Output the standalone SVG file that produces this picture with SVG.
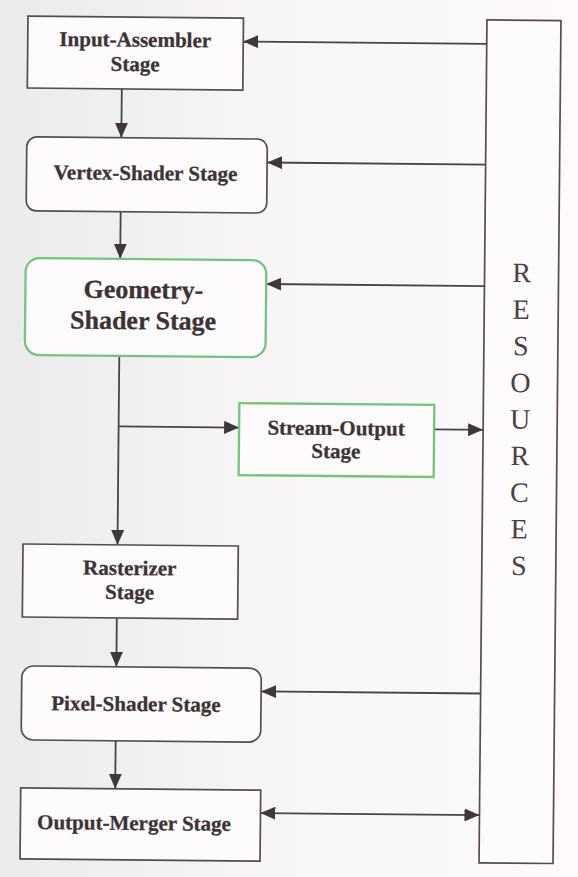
<svg xmlns="http://www.w3.org/2000/svg" width="578" height="877" viewBox="0 0 578 877">
<defs>
<linearGradient id="bg" x1="0" y1="0" x2="1" y2="0">
<stop offset="0" stop-color="#ebebeb"/>
<stop offset="0.45" stop-color="#f7f5f6"/>
<stop offset="1" stop-color="#fdf9fc"/>
</linearGradient>
<marker id="ah" markerUnits="userSpaceOnUse" markerWidth="15" markerHeight="13" viewBox="0 0 15 13" refX="15" refY="6.5" orient="auto-start-reverse">
<path d="M0,0 L15,6.5 L0,13 z" fill="#3f3838"/>
</marker>
<style>
.box{fill:#fefbfd;stroke:#574c4f;stroke-width:1.7}
.green{fill:#fefbfd;stroke:#74c47c;stroke-width:2.3}
.lbl{font-family:"Liberation Serif","Times New Roman",serif;font-weight:bold;font-size:21px;fill:#3d3335;stroke:#3d3335;stroke-width:0.3;text-anchor:middle}
.big{font-size:26px}
.res{font-family:"Liberation Serif","Times New Roman",serif;font-size:28px;fill:#4a4042;text-anchor:middle}
.c{fill:none;stroke:#4a4444;stroke-width:1.8}
.a{marker-end:url(#ah)}
.b{marker-start:url(#ah);marker-end:url(#ah)}
</style>
</defs>
<rect x="0" y="0" width="578" height="877" fill="url(#bg)"/>
<g transform="rotate(0.54 289 440)">
<g id="resources">
<rect class="box" x="483" y="18" width="74" height="843"/>
<text class="res" x="520"><tspan x="520" y="280">R</tspan><tspan x="520" y="316.6">E</tspan><tspan x="520" y="353.2">S</tspan><tspan x="520" y="389.8">O</tspan><tspan x="520" y="426.4">U</tspan><tspan x="520" y="463">R</tspan><tspan x="520" y="499.6">C</tspan><tspan x="520" y="536.2">E</tspan><tspan x="520" y="572.8">S</tspan></text>
</g>
<g id="connectors">
<path class="c a" d="M483,42 H239.5"/>
<path class="c a" d="M118.5,90.5 V139.3"/>
<path class="c a" d="M483,162.7 H264.5"/>
<path class="c a" d="M118.5,213.3 V260.4"/>
<path class="c a" d="M483,284.2 H264.7"/>
<path class="c a" d="M118.5,357.4 V546.5"/>
<path class="c a" d="M118.5,428 H239"/>
<path class="c a" d="M434,428 H483"/>
<path class="c a" d="M118.5,619.5 V668.4"/>
<path class="c a" d="M483,691.7 H263.5"/>
<path class="c a" d="M118.5,742.4 V790.4"/>
<path class="c b" d="M264,813.3 H483"/>
</g>
<g id="input-assembler">
<rect class="box" x="24" y="18.5" width="215.5" height="72"/>
<text class="lbl" x="131.5" y="48.1">Input-Assembler</text>
<text class="lbl" x="131.5" y="72.5">Stage</text>
</g>
<g id="vertex-shader">
<rect class="box" x="24" y="139.3" width="240.5" height="74" rx="10"/>
<text class="lbl" x="143" y="181.4">Vertex-Shader Stage</text>
</g>
<g id="geometry-shader">
<rect class="green" x="24" y="260.4" width="240.7" height="97" rx="14"/>
<text class="lbl big" x="142" y="299.6">Geometry-</text>
<text class="lbl big" x="142" y="330.6">Shader Stage</text>
</g>
<g id="stream-output">
<rect class="green" x="239" y="403.6" width="195" height="72"/>
<text class="lbl" x="336" y="434.6">Stream-Output</text>
<text class="lbl" x="336" y="457.6">Stage</text>
</g>
<g id="rasterizer">
<rect class="box" x="24" y="546.5" width="215.3" height="73"/>
<text class="lbl" x="131" y="576.5">Rasterizer</text>
<text class="lbl" x="131" y="600.5">Stage</text>
</g>
<g id="pixel-shader">
<rect class="box" x="24" y="668.4" width="239.5" height="74" rx="12"/>
<text class="lbl" x="138.5" y="712.4">Pixel-Shader Stage</text>
</g>
<g id="output-merger">
<rect class="box" x="24" y="790.4" width="240" height="71"/>
<text class="lbl" x="137.7" y="831.4">Output-Merger Stage</text>
</g>
</g>
</svg>
